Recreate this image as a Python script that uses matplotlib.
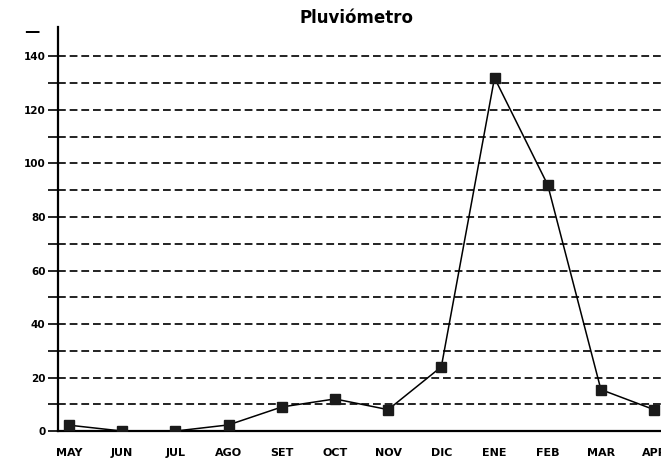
import numpy as np
import matplotlib.pyplot as plt

# lluvia mensual (mm), campaña mayo-abril
meses = ['MAY', 'JUN', 'JUL', 'AGO', 'SET', 'OCT', 'NOV', 'DIC', 'ENE', 'FEB', 'MAR', 'APR']
lluvia = [2.2, 0, 0, 2.3, 9, 12, 8, 24, 132, 92, 15.5, 8]
yticks = [0, 20, 40, 60, 80, 100, 120, 140]

fig = plt.figure(figsize=(6.61, 4.66), dpi=100)
ax = fig.add_axes([0.0877, 0.075, 0.9123, 0.867])

x = np.arange(len(meses))
ax.plot(x, lluvia, color='black', lw=1.1, marker='s', ms=7, mfc='#1a1a1a', mec='#1a1a1a', zorder=3)

# grilla punteada cada 10 mm
for v in range(10, 150, 10):
    ax.axhline(v, color='#222222', lw=1.4, ls=(0, (4, 2)), zorder=1)

ax.set_xlim(-0.207, 11.13)
ax.set_ylim(0, 151)
ax.set_yticks(yticks)
ax.set_yticks(range(10, 150, 20), minor=True)
ax.set_xticks(x)
ax.set_xticklabels(meses)
ax.tick_params(axis='y', which='both', length=7, width=1.2, direction='out', pad=2,
               labelsize=7.5)
ax.tick_params(axis='x', length=0, pad=12, labelsize=8)
for lbl in ax.get_yticklabels() + ax.get_xticklabels():
    lbl.set_fontweight('heavy')

for s in ['top', 'right']:
    ax.spines[s].set_visible(False)
ax.spines['left'].set_linewidth(1.6)
ax.spines['bottom'].set_linewidth(1.6)

ax.text(-0.03, 0.99, '\u2014', transform=ax.transAxes, ha='right', va='center',
        fontsize=11, fontweight='heavy')
fig.text(0.54, 0.962, 'Pluviómetro', ha='center', va='center', fontsize=12,
         fontweight='heavy')

fig.savefig('out.png', dpi=100)
